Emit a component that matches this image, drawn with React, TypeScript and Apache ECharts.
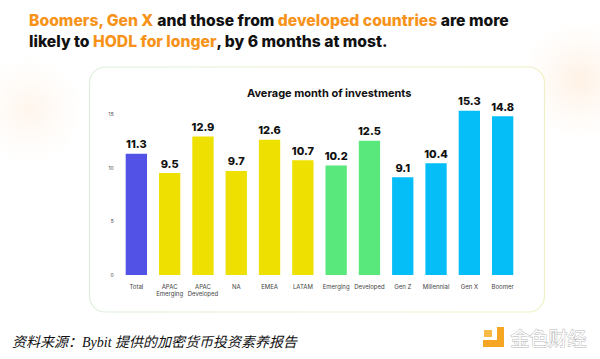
import React, { useEffect, useRef } from "react";
import * as echarts from "echarts";

const categories = ["Total", "APAC\nEmerging", "APAC\nDeveloped", "NA", "EMEA", "LATAM", "Emerging", "Developed", "Gen Z", "Millennial", "Gen X", "Boomer"];
const values = [11.3, 9.5, 12.9, 9.7, 12.6, 10.7, 10.2, 12.5, 9.1, 10.4, 15.3, 14.8];
const barColors = ["#5352E6", "#EEE000", "#EEE000", "#EEE000", "#EEE000", "#EEE000", "#58E87C", "#58E87C", "#05BEF8", "#05BEF8", "#05BEF8", "#05BEF8"];
const yTicks = [0, 5, 10, 15];

export default function App() {
  const ref = useRef<HTMLDivElement>(null);
  useEffect(() => {
    if (!ref.current) return;
    const chart = echarts.init(ref.current, null, { renderer: "svg" });
    const O = "#F7931A";
    const glow = (a: number) =>
      new echarts.graphic.RadialGradient(0.5, 0.5, 0.5, [
        { offset: 0, color: `rgba(255,200,150,${a})` },
        { offset: 1, color: "rgba(255,220,190,0)" },
      ]);
    chart.setOption({
      animation: false,
      backgroundColor: "#ffffff",
      title: [
        {
          left: 24,
          top: 5,
          text:
            "{o|Boomers, Gen X}{b| and those from }{o|developed countries}{b| are more}\n{b|likely to }{o|HODL for longer}{b|, by 6 months at most.}",
          textStyle: {
            rich: {
              o: { color: O, fontSize: 15.7, fontWeight: 800, fontFamily: "Inter", lineHeight: 21 },
              b: { color: "#111111", fontSize: 15.7, fontWeight: 800, fontFamily: "Inter", lineHeight: 21 },
            },
          },
        },
        {
          text: "Average month of investments",
          left: 242,
          top: 82,
          textStyle: { fontSize: 11, fontWeight: 700, fontFamily: "Inter", color: "#111" },
        },
      ],
      graphic: [
        { type: "circle", z: -10, shape: { cx: 580, cy: 80, r: 60 }, style: { fill: glow(0.25) }, silent: true },
        { type: "circle", z: -10, shape: { cx: 30, cy: 110, r: 55 }, style: { fill: glow(0.18) }, silent: true },
        {
          type: "rect",
          z: -5,
          shape: { x: 89.5, y: 67, width: 455, height: 245, r: 16 },
          style: {
            fill: "#ffffff",
            lineWidth: 1.2,
            stroke: new echarts.graphic.LinearGradient(0, 0, 1, 0, [
              { offset: 0, color: "#DDF0DC" },
              { offset: 1, color: "#F0F0C4" },
            ]),
          },
          silent: true,
        },
        {
          type: "text",
          left: 12,
          top: 335,
          style: {
            text: "资料来源：Bybit 提供的加密货币投资素养报告",
            fontSize: 14,
            fontStyle: "italic",
            fontFamily: "'Liberation Serif', 'Noto Sans CJK SC', serif",
            fill: "#111",
          },
        },
        { type: "rect", shape: { x: 484, y: 330, width: 8, height: 7 }, style: { fill: "#F8B945" } },
        { type: "rect", shape: { x: 497, y: 327, width: 7, height: 20 }, style: { fill: "#F5A623" } },
        { type: "rect", shape: { x: 483, y: 340, width: 21, height: 7 }, style: { fill: "#F5A623" } },
        {
          type: "text",
          left: 510,
          top: 327,
          style: { text: "金色财经", fontSize: 19, fontFamily: "'Noto Sans CJK SC'", fill: "#ffffff", stroke: "#b8b8b8", lineWidth: 1 },
        },
      ],
      grid: { left: 119.7, right: 80.7, top: 114, bottom: 84 },
      xAxis: {
        type: "category",
        data: categories,
        axisLine: { show: false },
        axisTick: { show: false },
        axisLabel: { fontSize: 6, color: "#444", margin: 8, lineHeight: 7, interval: 0, fontFamily: "Inter" },
      },
      yAxis: {
        type: "value",
        min: 0,
        max: 15,
        interval: 5,
        splitLine: { show: false },
        axisLabel: { fontSize: 5, color: "#444", margin: 6, fontFamily: "Inter", formatter: (v: number) => (yTicks.includes(v) ? String(v) : "") },
      },
      series: [
        {
          type: "bar",
          clip: false,
          barWidth: "64%",
          data: values.map((v, i) => ({ value: v, itemStyle: { color: barColors[i] } })),
          label: {
            show: true,
            position: "top",
            distance: 4,
            fontSize: 11,
            fontWeight: 800,
            fontFamily: "Inter",
            color: "#111",
          },
        },
      ],
    });
    return () => chart.dispose();
  }, []);
  return <div ref={ref} style={{ position: "fixed", left: 0, top: 0, width: 600, height: 359 }} />;
}
